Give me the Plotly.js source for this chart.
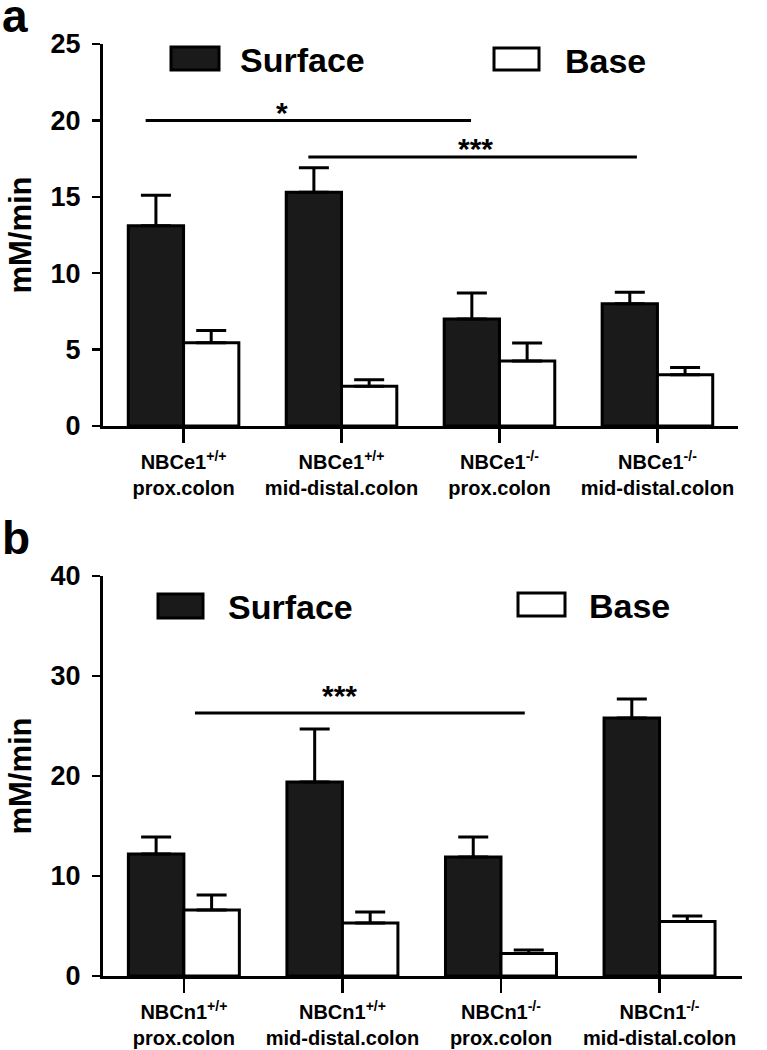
<!DOCTYPE html>
<html>
<head>
<meta charset="utf-8">
<script src="https://cdn.plot.ly/plotly-3.0.1.min.js"></script>
<style>html,body{margin:0;padding:0;background:#fff;}#chart{width:767px;height:1050px;}</style>
</head>
<body>
<div id="chart"></div>
<script>
// ---- data ----
const seriesNames = ['Surface', 'Base'];
const categoriesA = ['NBCe1+/+ prox.colon', 'NBCe1+/+ mid-distal.colon', 'NBCe1-/- prox.colon', 'NBCe1-/- mid-distal.colon'];
const tickTextA = ['NBCe1<sup>+/+</sup><br>prox.colon', 'NBCe1<sup>+/+</sup><br>mid-distal.colon', 'NBCe1<sup>-/-</sup><br>prox.colon', 'NBCe1<sup>-/-</sup><br>mid-distal.colon'];
const surfaceA = [13.1, 15.3, 7.0, 8.0];
const surfaceErrA = [2.0, 1.6, 1.7, 0.75];
const baseA = [5.45, 2.6, 4.25, 3.35];
const baseErrA = [0.8, 0.42, 1.18, 0.48];

const categoriesB = ['NBCn1+/+ prox.colon', 'NBCn1+/+ mid-distal.colon', 'NBCn1-/- prox.colon', 'NBCn1-/- mid-distal.colon'];
const tickTextB = ['NBCn1<sup>+/+</sup><br>prox.colon', 'NBCn1<sup>+/+</sup><br>mid-distal.colon', 'NBCn1<sup>-/-</sup><br>prox.colon', 'NBCn1<sup>-/-</sup><br>mid-distal.colon'];
const surfaceB = [12.2, 19.4, 11.9, 25.8];
const surfaceErrB = [1.7, 5.3, 2.0, 1.9];
const baseB = [6.6, 5.3, 2.25, 5.45];
const baseErrB = [1.5, 1.1, 0.35, 0.55];

const yTicksA = [0, 5, 10, 15, 20, 25];
const yTicksB = [0, 10, 20, 30, 40];
const yTitle = 'mM/min';
const panelLabels = ['a', 'b'];
// significance bars: [x0 index, x1 index, y level, label, label x index, label y]
const sigA = [[-0.24, 1.82, 20.0, '*', 0.62, 21.0], [0.79, 2.87, 17.6, '***', 1.85, 18.6]];
const sigB = [[0.07, 2.15, 26.3, '***', 0.98, 28.8]];

// ---- styling ----
const FONT = 'Liberation Sans, Arial, sans-serif';
const surfColor = '#1a1a1a';

function barTrace(x, y, err, name, fill, xa, ya) {
  return {
    type: 'bar', x: x, y: y, name: name, xaxis: xa, yaxis: ya, showlegend: false,
    marker: {color: fill, line: {color: '#000', width: 3}},
    error_y: {type: 'data', array: err, arrayminus: err.map(() => 0), symmetric: false,
              visible: true, color: '#000', thickness: 3, width: 15},
    hoverinfo: 'skip'
  };
}

const data = [
  barTrace(categoriesA, surfaceA, surfaceErrA, seriesNames[0], surfColor, 'x', 'y'),
  barTrace(categoriesA, baseA, baseErrA, seriesNames[1], '#ffffff', 'x', 'y'),
  barTrace(categoriesB, surfaceB, surfaceErrB, seriesNames[0], surfColor, 'x2', 'y2'),
  barTrace(categoriesB, baseB, baseErrB, seriesNames[1], '#ffffff', 'x2', 'y2')
];

const W = 767, H = 1050;
const px = v => v / W;          // horizontal pixel -> paper
const py = v => 1 - v / H;      // vertical pixel -> paper

function xAxis(cats, ticks, domain, range) {
  return {
    type: 'category', categoryorder: 'array', categoryarray: cats,
    tickvals: cats, ticktext: ticks,
    domain: domain, range: range, showline: true, linewidth: 3, linecolor: '#000',
    ticks: 'outside', ticklen: 14, tickwidth: 2.5, tickcolor: '#000',
    ticklabelstandoff: 2,
    tickfont: {family: FONT, size: 20, color: '#000', weight: 700},
    showgrid: false, zeroline: false, fixedrange: true
  };
}
function yAxis(ticks, domain, range) {
  return {
    domain: domain, range: range, tickvals: ticks, ticktext: ticks.map(String),
    showline: true, linewidth: 3, linecolor: '#000',
    ticks: 'outside', ticklen: 8, tickwidth: 2.5, tickcolor: '#000',
    ticklabelstandoff: 6,
    tickfont: {family: FONT, size: 27, color: '#000', weight: 700},
    title: {text: yTitle, font: {family: FONT, size: 31, color: '#000', weight: 700}, standoff: 10},
    showgrid: false, zeroline: false, fixedrange: true
  };
}

const shapes = [];
const annotations = [];

// significance lines
function addSig(list, xa, ya) {
  list.forEach(s => {
    shapes.push({type: 'line', xref: xa, yref: ya, x0: s[0], x1: s[1], y0: s[2], y1: s[2],
                 line: {color: '#000', width: 3}});
    annotations.push({xref: xa, yref: ya, x: s[4], y: s[5],
                      text: s[3], showarrow: false, yanchor: 'middle', yshift: -7,
                      font: {family: FONT, size: 30, color: '#000', weight: 700}});
  });
}
addSig(sigA, 'x', 'y');
addSig(sigB, 'x2', 'y2');

// legends (boxes + labels)
function addLegend(items) {
  items.forEach(it => {
    shapes.push({type: 'rect', xref: 'paper', yref: 'paper',
                 x0: px(it.bx0), x1: px(it.bx1), y0: py(it.by1), y1: py(it.by0),
                 fillcolor: it.fill, line: {color: '#000', width: 3}});
    annotations.push({xref: 'paper', yref: 'paper', x: px(it.tx), y: py(it.ty),
                      xanchor: 'left', yanchor: 'middle', text: it.name, showarrow: false,
                      font: {family: FONT, size: 34, color: '#000', weight: 700}});
  });
}
addLegend([
  {name: seriesNames[0], fill: surfColor, bx0: 171, bx1: 219, by0: 47, by1: 70, tx: 238, ty: 60},
  {name: seriesNames[1], fill: '#ffffff', bx0: 494, bx1: 539, by0: 48, by1: 70, tx: 563, ty: 61},
  {name: seriesNames[0], fill: surfColor, bx0: 158, bx1: 203, by0: 594, by1: 618, tx: 226, ty: 607},
  {name: seriesNames[1], fill: '#ffffff', bx0: 518, bx1: 565, by0: 593, by1: 616, tx: 587, ty: 606}
]);

// panel letters
annotations.push({xref: 'paper', yref: 'paper', x: 0, y: py(-12), xanchor: 'left', yanchor: 'top',
                  text: panelLabels[0], showarrow: false, font: {family: FONT, size: 46, color: '#000', weight: 700}});
annotations.push({xref: 'paper', yref: 'paper', x: 0, y: py(510), xanchor: 'left', yanchor: 'top',
                  text: panelLabels[1], showarrow: false, font: {family: FONT, size: 46, color: '#000', weight: 700}});

const layout = {
  width: W, height: H,
  margin: {l: 0, r: 0, t: 0, b: 0, pad: 0},
  paper_bgcolor: '#fff', plot_bgcolor: '#fff',
  barmode: 'group', bargap: 0.3, bargroupgap: 0,
  showlegend: false,
  font: {family: FONT, color: '#000'},
  xaxis: xAxis(categoriesA, tickTextA, [px(103), px(738)], [-0.51, 3.51]),
  yaxis: yAxis(yTicksA, [py(426), py(44)], [0, 25]),
  xaxis2: xAxis(categoriesB, tickTextB, [px(103), px(742)], [-0.51, 3.52]),
  yaxis2: yAxis(yTicksB, [py(976), py(576)], [0, 40]),
  shapes: shapes,
  annotations: annotations
};
layout.xaxis2.anchor = 'y2';
layout.yaxis2.anchor = 'x2';

Plotly.newPlot('chart', data, layout, {displayModeBar: false, staticPlot: true});
</script>
</body>
</html>
